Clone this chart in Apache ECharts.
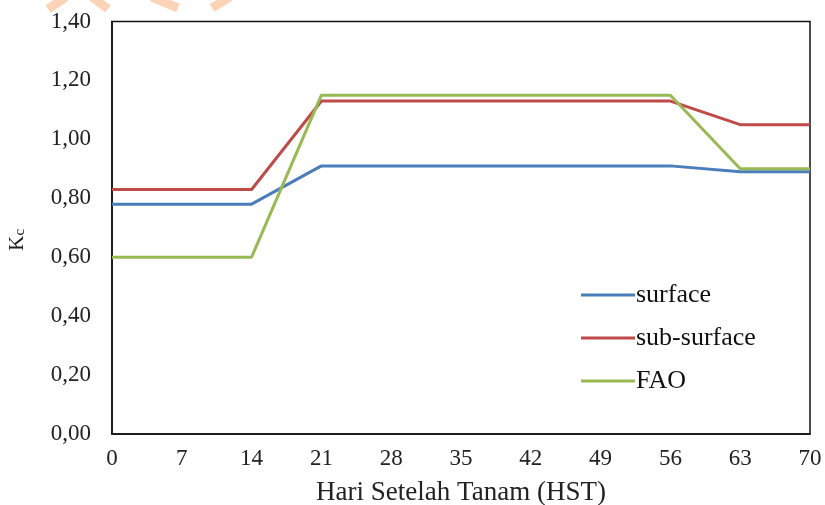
<!DOCTYPE html>
<html>
<head>
<meta charset="utf-8">
<script src="https://cdn.jsdelivr.net/npm/echarts@6/dist/echarts.min.js"></script>
<style>html,body{margin:0;padding:0;background:#fff}#c{width:825px;height:505px}</style>
</head>
<body>
<div id="c"></div>
<script>
const days = ['0','7','14','21','28','35','42','49','56','63','70'];
const surface    = [0.78,0.78,0.78,0.91,0.91,0.91,0.91,0.91,0.91,0.89,0.89];
const subSurface = [0.83,0.83,0.83,1.13,1.13,1.13,1.13,1.13,1.13,1.05,1.05];
const fao        = [0.60,0.60,0.60,1.15,1.15,1.15,1.15,1.15,1.15,0.90,0.90];
const seriesNames = ['surface','sub-surface','FAO'];

const font = '"Liberation Serif", "Times New Roman", serif';
const chart = echarts.init(document.getElementById('c'), null, {renderer:'canvas'});
const mk = (name, data, color) => ({
  name, type:'line', data, symbol:'none', showSymbol:false,
  lineStyle:{color, width:3}, itemStyle:{color}, z:3
});
chart.setOption({
  animation:false,
  textStyle:{fontFamily:font},
  grid:{left:112, right:15, top:21.5, bottom:71, outerBoundsMode:'none', containLabel:false,
    show:true, borderColor:'#111', borderWidth:1.5, backgroundColor:'transparent'},
  legend:{
    orient:'vertical', left:576, top:277, itemWidth:54, itemHeight:14, itemGap:17,
    icon:'path://M0,5.5 L54,5.5 L54,8.5 L0,8.5 Z',
    textStyle:{fontFamily:font, fontSize:26, color:'#111', padding:[0,0,0,-4], lineHeight:26},
    data:seriesNames
  },
  xAxis:{
    type:'category', data:days, boundaryGap:false,
    axisLine:{show:true, lineStyle:{color:'#111', width:1.5}},
    axisTick:{show:false},
    axisLabel:{fontFamily:font, fontSize:23, color:'#222', margin:13},
    splitLine:{show:false},
    name:'Hari Setelah Tanam (HST)', nameLocation:'middle', nameGap:45,
    nameTextStyle:{fontFamily:font, fontSize:27, color:'#222'}
  },
  yAxis:{
    type:'value', min:0, max:1.4, interval:0.2,
    axisLine:{show:true, lineStyle:{color:'#111', width:1.5}},
    axisTick:{show:false},
    splitLine:{show:false},
    axisLabel:{fontFamily:font, fontSize:23, color:'#222', margin:21,
      formatter:v=>v.toFixed(2).replace('.',',')},
    name:'{k|K}{c|c}', nameLocation:'middle', nameGap:84, nameRotate:90,
    nameTextStyle:{fontFamily:font, color:'#222', padding:[0,24,0,0],
      rich:{k:{fontSize:21, fontFamily:font, color:'#222'}, c:{fontSize:15, fontFamily:font, color:'#222', verticalAlign:'bottom'}}}
  },
  graphic:[
    {type:'group', silent:true, z:0, children:[
      {type:'polyline', shape:{points:[[48,9],[66,-3]]}, style:{stroke:'#fdd3b8', lineWidth:9, fill:null}},
      {type:'polyline', shape:{points:[[92,-3],[108,9]]}, style:{stroke:'#fdd3b8', lineWidth:9, fill:null}},
      {type:'polyline', shape:{points:[[152,-3],[178,8]]}, style:{stroke:'#fdd3b8', lineWidth:9, fill:null}},
      {type:'polyline', shape:{points:[[212,8],[230,-3]]}, style:{stroke:'#fdd3b8', lineWidth:9, fill:null}}
    ]}
  ],
  series:[
    mk(seriesNames[0], surface, '#4a7ebb'),
    mk(seriesNames[1], subSurface, '#be4b48'),
    mk(seriesNames[2], fao, '#98b954')
  ]
});
</script>
</body>
</html>
